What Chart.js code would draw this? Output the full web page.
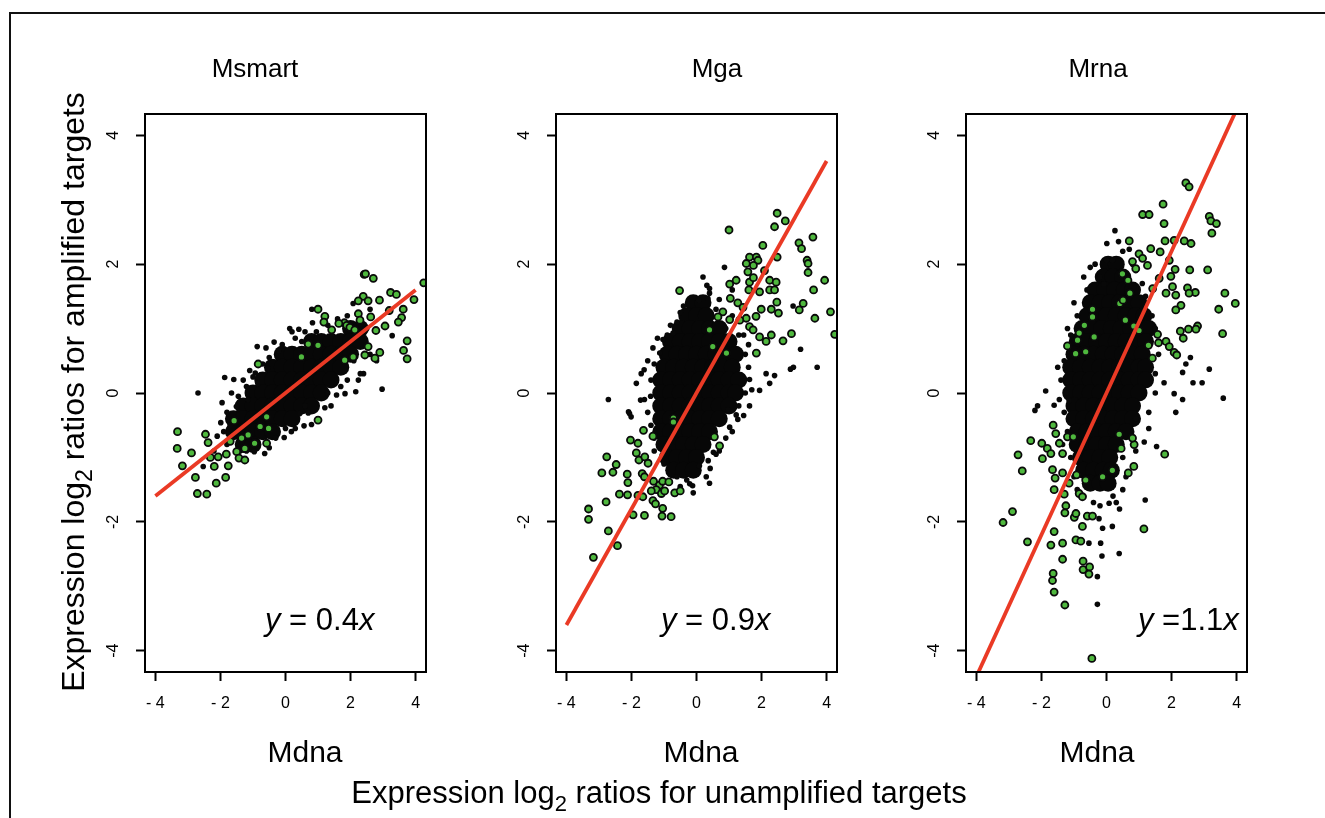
<!DOCTYPE html>
<html>
<head>
<meta charset="utf-8">
<script src="https://cdn.jsdelivr.net/npm/chart.js@4.4.1/dist/chart.umd.min.js"></script>
<style>
  body { margin: 0; background: #fff; }
  #wrap { position: relative; width: 1325px; height: 818px; overflow: hidden; }
  #wrap canvas { position: absolute; left: 0; top: 0; }
  #frame { position: absolute; left: 9px; top: 12px; width: 1340px; height: 840px;
           border-top: 2px solid #111; border-left: 2px solid #111; }
</style>
</head>
<body>
<div id="wrap">
  <div id="frame"></div>
  <canvas id="panel1" width="1325" height="818"></canvas>
  <canvas id="panel2" width="1325" height="818"></canvas>
  <canvas id="panel3" width="1325" height="818"></canvas>
</div>
<script>
// ---- data (Mdna on x, amplified ratio on y) ----
const panelTitles = ['Msmart', 'Mga', 'Mrna'];
const slopeLabels = [' = 0.4', ' = 0.9', ' =1.1'];
const xTickValues = [-4, -2, 0, 2, 4];
const xTickLabels = ['- 4', '- 2', '0', '2', '4'];
const yTickValues = [-4, -2, 0, 2, 4];
const yTickLabels = ['-4', '-2', '0', '2', '4'];

// fitted lines, end points
const fit1 = [[-4, -1.6], [4, 1.6]];
const fit2 = [[-4, -3.6], [4, 3.6]];
const fit3 = [[-4, -4.4], [4, 4.4]];

// dense centre of each cloud: rows of [y, [x positions]]
const core1 = [
  [1.0, [2.0, 2.3]],
  [0.8, [0.8, 1.1, 1.4, 1.7, 2.0, 2.3]],
  [0.6, [-0.1, 0.2, 0.5, 0.8, 1.1, 1.4, 1.7, 2.0]],
  [0.4, [-0.4, -0.1, 0.2, 0.5, 0.8, 1.1, 1.4, 1.7]],
  [0.2, [-0.7, -0.4, -0.1, 0.2, 0.5, 0.8, 1.1, 1.4]],
  [0.0, [-1.0, -0.7, -0.4, -0.1, 0.2, 0.5, 0.8, 1.1]],
  [-0.2, [-1.3, -1.0, -0.7, -0.4, -0.1, 0.2, 0.5, 0.8]],
  [-0.4, [-1.6, -1.3, -1.0, -0.7, -0.4, -0.1, 0.2]],
  [-0.6, [-1.6, -1.3, -1.0, -0.7, -0.4]],
  [-0.8, [-1.3, -1.0]]
];
const core2 = [
  [1.4, [-0.1, 0.2]],
  [1.2, [-0.3, 0.0, 0.3]],
  [1.0, [-0.5, -0.2, 0.1, 0.4, 0.7]],
  [0.8, [-0.8, -0.5, -0.2, 0.1, 0.4, 0.7, 1.0]],
  [0.6, [-0.9, -0.6, -0.3, 0.0, 0.3, 0.6, 0.9, 1.2]],
  [0.4, [-1.0, -0.7, -0.4, -0.1, 0.2, 0.5, 0.8, 1.1]],
  [0.2, [-1.1, -0.8, -0.5, -0.2, 0.1, 0.4, 0.7, 1.0, 1.3]],
  [0.0, [-1.1, -0.8, -0.5, -0.2, 0.1, 0.4, 0.7, 1.0, 1.2]],
  [-0.2, [-1.1, -0.8, -0.5, -0.2, 0.1, 0.4, 0.7, 1.0]],
  [-0.4, [-1.1, -0.8, -0.5, -0.2, 0.1, 0.4, 0.7]],
  [-0.6, [-1.1, -0.8, -0.5, -0.2, 0.1, 0.4]],
  [-0.8, [-1.0, -0.7, -0.4, -0.1, 0.2]],
  [-1.0, [-0.9, -0.6, -0.3, 0.0]],
  [-1.2, [-0.7, -0.4, -0.1]]
];
const core3 = [
  [2.0, [0.05, 0.3]],
  [1.8, [-0.1, 0.2, 0.5]],
  [1.6, [-0.35, -0.05, 0.25, 0.55, 0.8]],
  [1.4, [-0.5, -0.2, 0.1, 0.4, 0.7, 1.0]],
  [1.2, [-0.6, -0.3, 0.0, 0.3, 0.6, 0.9, 1.15]],
  [1.0, [-0.75, -0.45, -0.15, 0.15, 0.45, 0.75, 1.05, 1.3]],
  [0.8, [-0.9, -0.6, -0.3, 0.0, 0.3, 0.6, 0.9, 1.2]],
  [0.6, [-1.0, -0.7, -0.4, -0.1, 0.2, 0.5, 0.8, 1.1]],
  [0.4, [-1.1, -0.8, -0.5, -0.2, 0.1, 0.4, 0.7, 1.0, 1.2]],
  [0.2, [-1.1, -0.8, -0.5, -0.2, 0.1, 0.4, 0.7, 1.0, 1.2]],
  [0.0, [-1.1, -0.8, -0.5, -0.2, 0.1, 0.4, 0.7, 1.0]],
  [-0.2, [-1.0, -0.7, -0.4, -0.1, 0.2, 0.5, 0.8]],
  [-0.4, [-1.0, -0.7, -0.4, -0.1, 0.2, 0.5, 0.8]],
  [-0.6, [-0.9, -0.6, -0.3, 0.0, 0.3, 0.6]],
  [-0.8, [-0.9, -0.6, -0.3, 0.0, 0.3]],
  [-1.0, [-0.8, -0.5, -0.2, 0.1]],
  [-1.2, [-0.7, -0.4, -0.1, 0.15]],
  [-1.4, [-0.5, -0.2, 0.05]]
];

// loose black points around the clouds [x, y]
const black1 = [
  [-2.69, 0.00], [-1.87, 0.24], [-1.59, 0.21], [-1.30, 0.20], [-0.87, 0.72], [-0.93, 0.31],
  [-0.55, 0.39], [-0.35, 0.79], [0.13, 1.00], [0.41, 0.99], [0.83, 1.09], [0.81, 1.30],
  [2.08, 1.39], [3.28, 0.89], [2.97, 0.06], [2.16, 0.02], [1.83, -0.01], [2.24, 0.20],
  [1.57, -0.03], [1.21, -0.23], [0.70, -0.31], [0.44, -0.32], [0.57, -0.51], [0.80, -0.49],
  [-0.04, -0.69], [-0.96, -0.91], [-0.64, -0.94], [-1.99, -0.46], [-1.95, -0.15], [-1.66, 0.00],
  [-1.51, -0.21], [-2.53, -1.14], [-2.10, -0.67], [0.18, -0.60], [-1.20, 0.10], [-1.00, 0.25],
  [-0.70, 0.45], [-0.20, 0.65], [0.30, 0.85], [0.60, 0.95], [1.30, 1.05], [1.60, 1.15],
  [2.50, 1.00], [2.60, 0.60], [2.40, 0.30], [1.90, 0.20], [1.40, -0.20], [1.00, -0.40],
  [0.30, -0.55], [-0.30, -0.70], [-0.90, -0.75], [-1.40, -0.90], [-1.80, -0.80], [-2.20, -0.90],
  [-1.80, -0.30], [2.80, 0.50], [-1.45, -0.05], [-1.15, -0.10], [-0.85, 0.15], [0.95, 0.95],
  [-1.90, -0.60], [-1.70, -0.50], [-1.20, -0.90], [-0.50, -0.85], [0.00, -0.55], [0.60, -0.20],
  [1.30, 0.00], [1.70, 0.10], [2.10, 0.50], [2.30, 0.30], [2.60, 1.30], [1.90, 1.20],
  [1.20, 1.20], [0.50, 0.80], [-0.10, 0.75], [-0.50, 0.55], [-1.10, 0.35], [-0.60, 0.70],
  [0.20, 0.95]
];
const black2 = [
  [0.86, 1.95], [0.32, 1.67], [0.40, 1.62], [0.07, 1.44], [0.35, 1.47], [2.97, 1.35],
  [3.20, 0.68], [2.89, 0.37], [3.71, 0.40], [2.14, 0.30], [2.40, 0.27], [2.25, 0.15],
  [1.94, 0.04], [1.63, -0.20], [1.27, -0.41], [1.02, -0.53], [0.42, -1.17], [0.09, -1.13],
  [-0.12, -1.44], [-2.71, -0.10], [-1.61, 0.36], [-1.34, 0.70], [-1.03, 0.83], [-0.72, 0.93],
  [-1.85, 0.15], [-1.72, -0.11], [-2.09, -0.29], [-2.01, -0.37], [-1.13, 0.62], [-1.41, -0.05],
  [-2.06, -0.32], [1.63, 0.21], [0.97, -0.26], [1.22, -0.34], [0.52, -0.92], [0.36, -1.05],
  [-0.21, -1.41], [-0.40, 1.35], [0.60, 1.30], [0.90, 1.00], [1.30, 0.90], [1.50, 0.60],
  [1.60, 0.40], [1.50, 0.00], [1.30, -0.20], [0.90, -0.70], [0.60, -0.95], [0.30, -1.30],
  [-0.30, -1.35], [-0.60, -1.30], [-1.30, -0.90], [-1.40, -0.50], [-1.50, -0.30], [-1.40, 0.20],
  [-1.30, 0.45], [-0.90, 0.90], [-0.60, 1.10], [2.98, 0.40], [1.10, 1.60], [0.20, 1.80],
  [-1.50, 0.50], [-1.20, 0.85], [-0.80, 1.05], [-0.50, 1.25], [0.40, 1.55], [0.70, 1.45],
  [1.10, 1.20], [1.45, 0.90], [1.60, 0.75], [1.70, 0.05], [1.45, -0.35], [1.10, -0.60],
  [0.70, -0.90], [0.40, -1.40], [-0.10, -1.55], [-0.50, -1.45], [-1.00, -1.10], [-1.30, -0.70],
  [-1.60, -0.10], [-1.70, 0.30]
];
const black3 = [
  [0.26, 2.52], [0.01, 2.32], [0.37, 2.35], [0.70, 2.23], [0.00, 2.06], [0.18, 2.06],
  [-0.20, 1.80], [-0.08, 1.69], [-1.87, 0.03], [-2.12, -0.20], [-2.20, -0.27], [-1.61, -0.19],
  [-1.25, 0.00], [-1.15, -0.12], [3.59, -0.08], [3.16, 0.37], [2.94, 0.16], [2.66, 0.16],
  [2.58, 0.55], [2.44, 0.45], [2.34, 0.32], [1.77, 0.16], [2.08, -0.01], [2.34, -0.10],
  [2.13, -0.30], [1.54, -0.83], [1.16, -0.76], [1.19, -1.66], [0.39, -2.49], [-0.14, -2.53],
  [-0.28, -2.85], [-0.28, -3.28], [-0.18, -2.33], [-0.23, -1.95], [-0.12, -2.10], [0.18, -2.07],
  [0.08, -1.71], [-0.54, -2.33], [-0.60, 1.60], [-0.90, 1.20], [-1.10, 0.90], [-1.30, 0.50],
  [-1.40, 0.20], [-1.30, -0.30], [-1.20, -0.60], [-1.10, -1.00], [-0.90, -1.50], [0.50, -1.50],
  [0.50, -1.00], [0.90, -0.40], [1.30, -0.30], [1.50, 0.30], [1.60, 0.60], [1.40, 1.20],
  [1.10, 1.70], [0.80, 2.00], [-0.35, 2.00], [0.40, -1.80], [0.20, -1.60], [-0.40, -1.70],
  [-0.70, 1.80], [-0.50, 1.95], [0.50, 2.20], [0.90, 1.90], [1.20, 1.50], [1.50, 1.00],
  [1.50, 0.00], [1.30, -0.55], [0.90, -0.90], [0.60, -1.30], [0.30, -1.70], [-0.20, -1.75],
  [-0.70, -1.60], [-1.00, -1.30], [-1.35, -0.80], [-1.45, -0.10], [-1.50, 0.40], [-1.20, 1.00],
  [-1.00, 1.40]
];

// green (flagged) points [x, y]
const green1 = [
  [2.42, 1.84], [2.46, 1.85], [2.70, 1.78], [4.25, 1.71], [3.23, 1.56], [3.41, 1.53],
  [3.95, 1.45], [2.39, 1.50], [2.24, 1.43], [2.54, 1.43], [2.89, 1.44], [3.62, 1.30],
  [1.00, 1.30], [1.21, 1.19], [1.18, 1.10], [3.19, 1.28], [3.57, 1.17], [3.47, 1.10],
  [3.06, 1.04], [2.62, 1.18], [2.78, 0.97], [2.24, 1.23], [2.29, 1.13], [1.81, 1.09],
  [1.88, 1.05], [1.64, 1.08], [1.98, 1.02], [2.13, 0.98], [1.42, 0.98], [3.74, 0.81],
  [3.63, 0.66], [3.74, 0.53], [2.90, 0.63], [2.75, 0.54], [2.54, 0.72], [2.44, 0.59],
  [2.08, 0.56], [1.82, 0.51], [1.00, 0.74], [0.70, 0.76], [0.49, 0.56], [-0.84, 0.45],
  [1.00, -0.42], [-0.58, -0.37], [-1.58, -0.43], [-0.78, -0.52], [-0.52, -0.55], [-3.32, -0.60],
  [-3.33, -0.86], [-2.46, -0.64], [-2.38, -0.77], [-2.89, -0.93], [-3.17, -1.13], [-2.31, -1.00],
  [-2.07, -0.99], [-1.82, -0.95], [-2.19, -1.14], [-1.76, -1.13], [-1.50, -0.91], [-1.43, -1.01],
  [-1.25, -1.04], [-1.25, -0.86], [-0.95, -0.78], [-0.58, -0.78], [-2.77, -1.31], [-2.13, -1.40],
  [-1.84, -1.31], [-2.71, -1.56], [-2.42, -1.57], [-1.15, -0.65], [-1.70, -0.75], [-1.35, -0.70]
];
const green2 = [
  [2.48, 2.79], [2.73, 2.67], [2.40, 2.58], [1.00, 2.53], [3.58, 2.42], [3.15, 2.33],
  [3.23, 2.24], [2.04, 2.29], [1.63, 2.11], [1.84, 2.11], [1.89, 2.06], [2.48, 2.11],
  [3.40, 2.06], [3.43, 2.01], [1.53, 2.01], [1.75, 1.98], [3.43, 1.87], [1.58, 1.88],
  [2.09, 1.90], [1.22, 1.75], [1.02, 1.69], [1.63, 1.72], [1.75, 1.79], [2.25, 1.75],
  [2.45, 1.72], [2.25, 1.60], [2.40, 1.60], [3.94, 1.75], [-0.52, 1.59], [3.60, 1.60],
  [1.94, 1.57], [1.61, 1.60], [3.28, 1.39], [3.16, 1.29], [4.12, 1.26], [3.64, 1.16],
  [4.25, 0.91], [2.47, 1.41], [2.52, 1.24], [2.30, 1.30], [1.99, 1.30], [1.83, 1.19],
  [1.53, 1.16], [1.04, 1.47], [1.27, 1.40], [1.43, 1.33], [0.81, 1.26], [0.66, 1.18],
  [1.02, 1.14], [1.33, 1.13], [1.63, 1.03], [1.74, 0.98], [2.92, 0.92], [2.66, 0.81],
  [2.14, 0.80], [1.94, 0.87], [2.30, 0.90], [1.84, 0.62], [0.40, 0.98], [0.50, 0.72],
  [0.92, 0.62], [-0.71, -0.39], [-0.71, -0.45], [0.55, -0.68], [0.71, -0.82], [-2.03, -0.73],
  [-1.80, -0.78], [-1.63, -0.58], [-1.34, -0.67], [-1.85, -0.93], [-1.77, -1.04], [-1.59, -0.99],
  [-1.49, -1.09], [-2.76, -0.99], [-2.47, -1.11], [-2.57, -1.23], [-2.91, -1.24], [-2.13, -1.26],
  [-2.11, -1.39], [-1.67, -1.25], [-1.60, -1.30], [-1.32, -1.37], [-1.14, -1.43], [-1.04, -1.37],
  [-0.85, -1.38], [-1.24, -1.50], [-2.37, -1.57], [-2.12, -1.58], [-1.80, -1.59], [-1.65, -1.61],
  [-1.39, -1.52], [-1.08, -1.56], [-0.98, -1.52], [-0.67, -1.55], [-0.50, -1.52], [-2.78, -1.69],
  [-1.34, -1.67], [-1.26, -1.72], [-1.04, -1.79], [-3.32, -1.80], [-3.32, -1.96], [-1.95, -1.89],
  [-1.60, -1.90], [-1.06, -1.91], [-0.78, -1.92], [-2.71, -2.14], [-2.43, -2.37], [-3.17, -2.55]
];
const green3 = [
  [2.44, 3.26], [2.54, 3.20], [1.74, 2.93], [1.11, 2.77], [1.31, 2.77], [1.77, 2.63],
  [3.16, 2.74], [3.21, 2.67], [3.38, 2.63], [3.24, 2.48], [1.80, 2.36], [2.08, 2.37],
  [2.39, 2.36], [2.60, 2.32], [1.36, 2.24], [1.65, 2.19], [0.70, 2.36], [1.00, 2.16],
  [1.11, 2.09], [1.26, 1.98], [0.80, 2.04], [0.90, 1.93], [0.49, 1.85], [1.93, 2.06],
  [2.11, 1.92], [1.98, 1.81], [2.56, 1.91], [3.11, 1.91], [1.62, 1.78], [1.42, 1.62],
  [1.83, 1.55], [2.03, 1.65], [2.13, 1.52], [2.29, 1.36], [2.13, 1.29], [2.49, 1.63],
  [2.73, 1.56], [2.54, 1.55], [3.64, 1.55], [3.96, 1.39], [3.45, 1.30], [3.57, 0.92],
  [2.80, 1.04], [2.75, 0.99], [2.52, 0.99], [2.27, 0.96], [2.36, 0.85], [1.83, 0.80],
  [1.93, 0.72], [2.08, 0.63], [2.16, 0.59], [1.57, 0.91], [1.60, 0.78], [1.29, 0.74],
  [1.41, 0.54], [1.00, 0.97], [0.84, 1.04], [0.58, 1.13], [0.41, 1.39], [0.51, 1.44],
  [0.72, 1.55], [0.66, 1.75], [-0.43, 1.30], [-0.43, 1.18], [-0.68, 1.05], [-0.84, 0.93],
  [-0.89, 0.82], [-1.20, 0.73], [-0.95, 0.61], [-0.64, 0.64], [-0.38, 0.87], [-1.64, -0.50],
  [-1.56, -0.63], [-1.20, -0.68], [-1.02, -0.68], [-1.45, -0.78], [-2.33, -0.74], [-1.99, -0.78],
  [-1.82, -0.86], [-1.71, -0.94], [-1.35, -0.94], [-2.72, -0.96], [-2.59, -1.21], [-1.97, -1.02],
  [-1.66, -1.19], [-1.58, -1.32], [-1.61, -1.50], [-1.35, -1.24], [-1.15, -1.40], [-0.92, -1.27],
  [-0.64, -1.35], [-1.30, -1.57], [-0.84, -1.56], [-0.74, -1.61], [-1.25, -1.75], [-1.28, -1.86],
  [-0.99, -1.93], [-0.94, -1.87], [-2.89, -1.84], [-3.18, -2.01], [-2.43, -2.31], [-1.61, -2.15],
  [-1.71, -2.36], [-1.35, -2.33], [-0.94, -2.28], [-0.79, -2.30], [-0.74, -2.07], [-0.59, -1.91],
  [-0.43, -1.91], [-1.35, -2.58], [-0.72, -2.61], [-0.72, -2.74], [-0.52, -2.70], [-0.54, -2.81],
  [-1.64, -2.80], [-1.66, -2.91], [-1.61, -3.09], [-1.28, -3.29], [-0.45, -4.12], [1.15, -2.11],
  [1.79, -0.95], [0.84, -1.14], [0.67, -1.24], [0.85, -0.80], [0.80, -0.70], [0.45, -0.86],
  [0.39, -0.64], [-0.12, -1.30], [0.18, -1.20]
];

// ---- drawing ----
const FONT = '"Liberation Sans", Arial, Helvetica, sans-serif';
const toPts = arr => arr.map(([x, y]) => ({x, y}));
const rowsToPts = rows => rows.flatMap(([y, xs]) => xs.map(x => ({x, y})));

// draw a run of text pieces (plain / italic / subscript) starting at x
function drawPieces(ctx, pieces, x, y, align) {
  let total = 0;
  pieces.forEach(p => {
    ctx.font = (p.italic ? 'italic ' : '') + p.size + 'px ' + FONT;
    p.w = ctx.measureText(p.t).width;
    total += p.w;
  });
  let cx = align === 'center' ? x - total / 2 : x;
  ctx.textAlign = 'left';
  ctx.textBaseline = 'alphabetic';
  pieces.forEach(p => {
    ctx.font = (p.italic ? 'italic ' : '') + p.size + 'px ' + FONT;
    ctx.fillText(p.t, cx, y + (p.dy || 0));
    cx += p.w;
  });
}

const panelText = {
  id: 'panelText',
  afterDraw(chart, args, o) {
    const ctx = chart.ctx;
    const a = chart.chartArea;
    ctx.save();
    // plot box
    ctx.strokeStyle = '#000';
    ctx.lineWidth = 2;
    ctx.strokeRect(a.left, a.top, a.right - a.left, a.bottom - a.top);
    ctx.fillStyle = '#000';
    drawPieces(ctx, [{t: o.title, size: 26}], o.titleX, 77, 'center');
    drawPieces(ctx, [{t: 'Mdna', size: 30}], o.xlabX, 762, 'center');
    drawPieces(ctx, [{t: 'y', size: 31, italic: true}, {t: o.eq, size: 31}, {t: 'x', size: 31, italic: true}],
      o.eqX, 630, 'left');
    if (o.outer) {
      drawPieces(ctx, [{t: 'Expression log', size: 31}, {t: '2', size: 22, dy: 8},
        {t: ' ratios for unamplified targets', size: 31}], 659, 803, 'center');
      ctx.translate(84, 392);
      ctx.rotate(-Math.PI / 2);
      drawPieces(ctx, [{t: 'Expression log', size: 32}, {t: '2', size: 23, dy: 8},
        {t: ' ratios for amplified targets', size: 32}], 0, 0, 'center');
    }
    ctx.restore();
  }
};

function makePanel(id, left, core, black, green, fit, text) {
  const boxW = 281, top = 114, bottom = 672, axisSize = 60;
  const axisCommon = {
    grid: { display: true, drawOnChartArea: false, drawTicks: true, tickLength: 9,
            tickWidth: 2, tickColor: '#000' },
    border: { display: true, color: '#000', width: 2 }
  };
  new Chart(document.getElementById(id), {
    type: 'scatter',
    data: {
      datasets: [
        { data: toPts(fit), type: 'line', showLine: true, borderColor: '#ea3a25', borderWidth: 3.8,
          pointRadius: 0, clip: 0, order: 1 },
        { data: toPts(green), pointRadius: 3.5, pointBackgroundColor: '#4fb83e',
          pointBorderColor: '#0a0a0a', pointBorderWidth: 1.8, order: 2 },
        { data: toPts(black), pointRadius: 2.8, pointBackgroundColor: '#080808',
          pointBorderWidth: 0, order: 3 },
        { data: rowsToPts(core), pointRadius: 8.5, pointBackgroundColor: '#070707',
          pointBorderWidth: 0, order: 4 }
      ]
    },
    options: {
      responsive: false,
      animation: false,
      devicePixelRatio: 1,
      events: [],
      layout: { padding: { left: left - axisSize, right: 1325 - left - boxW, top: top,
                           bottom: 818 - bottom - axisSize } },
      plugins: { legend: { display: false }, tooltip: { enabled: false }, panelText: text },
      scales: {
        x: Object.assign({
          type: 'linear', position: 'bottom', min: -4.32, max: 4.32,
          afterFit: s => { s.height = axisSize; },
          afterBuildTicks: s => { s.ticks = xTickValues.map(v => ({value: v})); },
          ticks: { autoSkip: false, maxRotation: 0, padding: 13, color: '#000',
                   font: { family: FONT, size: 16 },
                   callback: v => xTickLabels[xTickValues.indexOf(v)] }
        }, axisCommon),
        y: Object.assign({
          type: 'linear', position: 'left', min: -4.33, max: 4.33,
          afterFit: s => { s.width = axisSize; },
          afterBuildTicks: s => { s.ticks = yTickValues.map(v => ({value: v})); },
          ticks: { autoSkip: false, minRotation: 90, maxRotation: 90, crossAlign: 'center',
                   padding: 15, color: '#000', font: { family: FONT, size: 16 },
                   callback: v => yTickLabels[yTickValues.indexOf(v)] }
        }, axisCommon)
      }
    },
    plugins: [panelText]
  });
}

makePanel('panel1', 145, core1, black1, green1, fit1,
  { title: panelTitles[0], titleX: 255, xlabX: 305, eq: slopeLabels[0], eqX: 265, outer: true });
makePanel('panel2', 556, core2, black2, green2, fit2,
  { title: panelTitles[1], titleX: 717, xlabX: 701, eq: slopeLabels[1], eqX: 661, outer: false });
makePanel('panel3', 966, core3, black3, green3, fit3,
  { title: panelTitles[2], titleX: 1098, xlabX: 1097, eq: slopeLabels[2], eqX: 1138, outer: false });
</script>
</body>
</html>
